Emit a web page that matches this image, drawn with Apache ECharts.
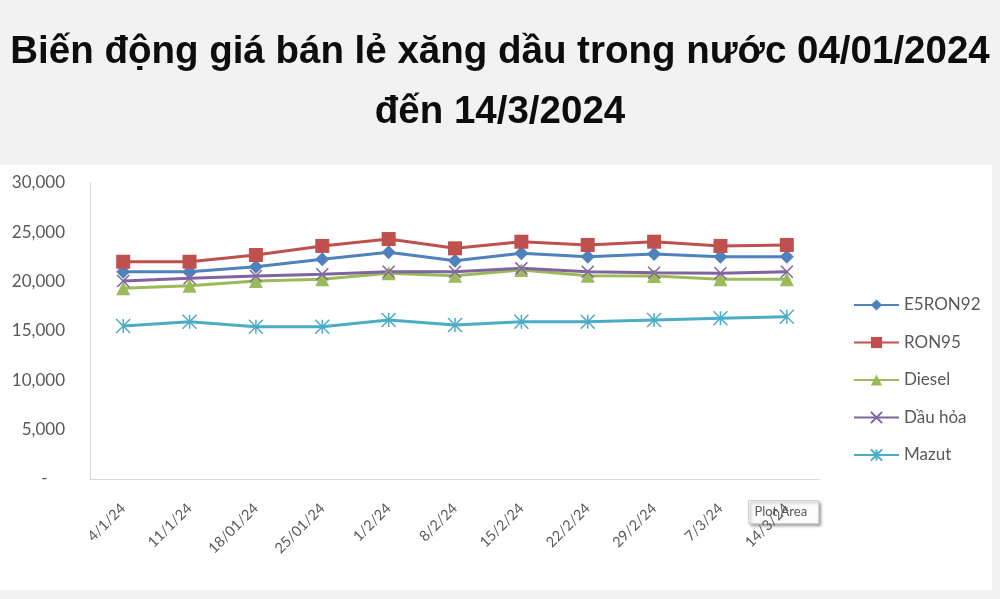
<!DOCTYPE html>
<html>
<head>
<meta charset="utf-8">
<script src="https://cdn.jsdelivr.net/npm/echarts@6/dist/echarts.min.js"></script>
<style>
  html, body { margin: 0; padding: 0; background: #f2f2f2; }
  #chart { width: 1000px; height: 599px; }
</style>
</head>
<body>
<div id="chart"></div>
<script>
// du lieu doc tu hinh
const dates = ['4/1/24', '11/1/24', '18/01/24', '25/01/24', '1/2/24', '8/2/24',
  '15/2/24', '22/2/24', '29/2/24', '7/3/24', '14/3/24'];
const e5ron92 = [21010, 21010, 21520, 22270, 22980, 22130, 22880, 22530, 22800, 22530, 22530];
const ron95 = [22020, 22020, 22700, 23620, 24320, 23380, 24050, 23720, 24050, 23620, 23720];
const diesel = [19330, 19590, 20070, 20240, 20850, 20600, 21180, 20600, 20570, 20240, 20240];
const dauHoa = [20070, 20340, 20570, 20750, 21010, 21010, 21350, 21010, 20910, 20850, 21010];
const mazut = [15510, 15940, 15440, 15440, 16120, 15610, 15940, 15940, 16120, 16290, 16450];
const yTicks = [0, 5000, 10000, 15000, 20000, 25000, 30000];

const labelColor = '#595959';
const fontFam = 'Lato, "Open Sans", sans-serif';

const xPath = 'path://M0,0 L10,10 M10,0 L0,10';
const starPath = 'path://M5,0 L5,10 M0,0 L10,10 M10,0 L0,10';

function makeSeries(name, data, color, symbol, size, stroke) {
  const s = {
    name: name,
    type: 'line',
    data: data,
    symbol: symbol,
    symbolSize: size,
    showAllSymbol: true,
    lineStyle: { color: color, width: 3 },
    itemStyle: { color: color },
    emphasis: { disabled: true }
  };
  if (stroke) {
    s.itemStyle = { color: 'transparent', borderColor: color, borderWidth: 1.5 };
  }
  return s;
}

const chart = echarts.init(document.getElementById('chart'));
chart.setOption({
  backgroundColor: '#f2f2f2',
  animation: false,
  title: {
    text: 'Biến động giá bán lẻ xăng dầu trong nước 04/01/2024\nđến 14/3/2024',
    left: 'center',
    top: 22,
    padding: 0,
    textStyle: {
      fontFamily: '"Liberation Sans", Arial, sans-serif',
      fontWeight: 'bold',
      fontSize: 38.5,
      lineHeight: 60,
      color: '#0d0d0d'
    }
  },
  graphic: [
    {
      type: 'rect',
      z: -10,
      shape: { x: 0, y: 165, width: 992, height: 425 },
      style: { fill: '#ffffff' }
    },
    {
      type: 'group',
      left: 748,
      top: 500,
      z: 100,
      children: [
        {
          type: 'rect',
          shape: { x: 0, y: 0, width: 70, height: 23 },
          style: { fill: '#fbfbfb', stroke: '#d0d0d0', lineWidth: 1,
            shadowBlur: 3, shadowOffsetX: 2, shadowOffsetY: 2, shadowColor: 'rgba(0,0,0,0.35)' }
        },
        {
          type: 'text',
          x: 6, y: 5,
          style: { text: 'Plot Area', fill: labelColor, fontSize: 13, fontFamily: fontFam }
        }
      ]
    }
  ],
  legend: {
    orient: 'vertical',
    left: 853,
    top: 295,
    padding: 0,
    itemWidth: 45,
    itemHeight: 14,
    itemGap: 17.5,
    textStyle: { color: labelColor, fontSize: 17, lineHeight: 20, fontFamily: fontFam },
    data: ['E5RON92', 'RON95', 'Diesel', 'Dầu hỏa', 'Mazut']
  },
  grid: { left: 90, right: 180, top: 183, bottom: 120 },
  xAxis: {
    type: 'category',
    data: dates,
    boundaryGap: true,
    axisLine: { lineStyle: { color: '#d9d9d9', width: 1 } },
    axisTick: { show: false },
    axisLabel: {
      rotate: 45,
      margin: 27,
      interval: 0,
      color: labelColor,
      fontSize: 14.5,
      fontFamily: fontFam
    }
  },
  yAxis: {
    type: 'value',
    min: yTicks[0],
    max: yTicks[yTicks.length - 1],
    interval: 5000,
    splitLine: { show: false },
    axisLine: { show: true, lineStyle: { color: '#d9d9d9', width: 1 } },
    axisTick: { show: false },
    axisLabel: {
      margin: 25,
      color: labelColor,
      fontSize: 17,
      fontFamily: fontFam,
      formatter: function (v) { return v === 0 ? '-    ' : v.toLocaleString('en-US'); }
    }
  },
  series: [
    makeSeries('E5RON92', e5ron92, '#4f81bd', 'diamond', 14),
    makeSeries('RON95', ron95, '#c0504d', 'rect', 14),
    makeSeries('Diesel', diesel, '#9bbb59', 'triangle', 14),
    makeSeries('Dầu hỏa', dauHoa, '#8064a2', xPath, 12, true),
    makeSeries('Mazut', mazut, '#4bacc6', starPath, 14, true)
  ]
});
</script>
</body>
</html>
